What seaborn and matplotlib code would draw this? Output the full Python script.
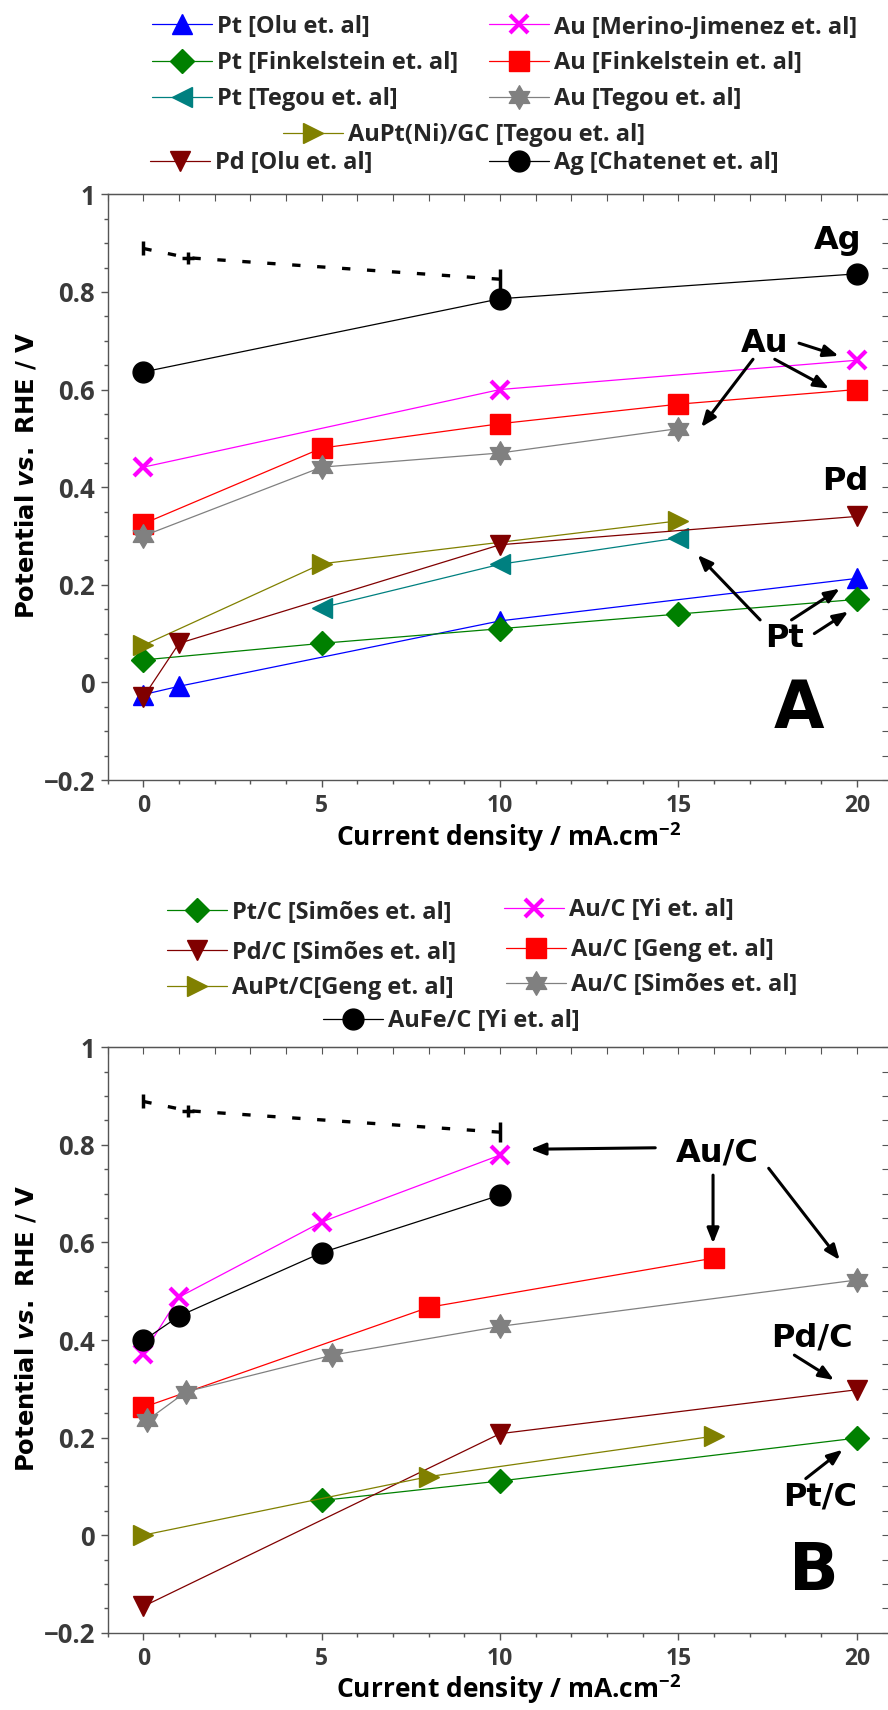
import matplotlib
matplotlib.use("Agg")
import matplotlib.pyplot as plt
import seaborn as sns
from matplotlib.lines import Line2D
from matplotlib.path import Path
from matplotlib.ticker import MultipleLocator, FuncFormatter

# ---------------- panel A data (current density mA/cm2, potential V vs RHE)
pt_olu_x = [0, 1, 10, 20]
pt_olu_y = [-0.025, -0.008, 0.126, 0.213]
pt_fink_x = [0, 5, 10, 15, 20]
pt_fink_y = [0.046, 0.080, 0.110, 0.140, 0.170]
pt_tegou_x = [5, 10, 15]
pt_tegou_y = [0.153, 0.242, 0.296]
aupt_ni_x = [0, 5, 15]
aupt_ni_y = [0.076, 0.243, 0.331]
pd_olu_x = [0, 1, 10, 20]
pd_olu_y = [-0.030, 0.080, 0.282, 0.340]
au_merino_x = [0, 10, 20]
au_merino_y = [0.441, 0.600, 0.660]
au_fink_x = [0, 5, 10, 15, 20]
au_fink_y = [0.325, 0.480, 0.530, 0.570, 0.600]
au_tegou_x = [0, 5, 10, 15]
au_tegou_y = [0.300, 0.441, 0.470, 0.520]
ag_chat_x = [0, 10, 20]
ag_chat_y = [0.636, 0.786, 0.837]

# ---------------- panel B data
ptc_simoes_x = [5, 10, 20]
ptc_simoes_y = [0.071, 0.111, 0.199]
pdc_simoes_x = [0, 10, 20]
pdc_simoes_y = [-0.146, 0.208, 0.298]
auptc_geng_x = [0, 8, 16]
auptc_geng_y = [0.0, 0.120, 0.203]
auc_yi_x = [0, 1, 5, 10]
auc_yi_y = [0.372, 0.488, 0.642, 0.779]
auc_geng_x = [0, 8, 16]
auc_geng_y = [0.262, 0.467, 0.568]
auc_simoes_x = [0.1, 1.2, 5.3, 10, 20]
auc_simoes_y = [0.235, 0.294, 0.369, 0.428, 0.523]
aufec_yi_x = [0, 1, 5, 10]
aufec_yi_y = [0.399, 0.449, 0.579, 0.697]

# equilibrium reference (dashed) line, same on both panels
eq_x = [0, 1.25, 10]
eq_y = [0.889, 0.870, 0.826]

labels_a = ["Pt [Olu et. al]", "Au [Merino-Jimenez et. al]",
            "Pt [Finkelstein et. al]", "Au [Finkelstein et. al]",
            "Pt [Tegou et. al]", "Au [Tegou et. al]",
            "AuPt(Ni)/GC [Tegou et. al]",
            "Pd [Olu et. al]", "Ag [Chatenet et. al]"]
labels_b = ["Pt/C [Simões et. al]", "Au/C [Yi et. al]",
            "Pd/C [Simões et. al]", "Au/C [Geng et. al]",
            "AuPt/C[Geng et. al]", "Au/C [Simões et. al]",
            "AuFe/C [Yi et. al]"]

sns.set_style("ticks")
plt.rcParams["font.family"] = ["Open Sans", "DejaVu Sans"]
plt.rcParams["font.weight"] = "bold"
plt.rcParams["mathtext.fontset"] = "custom"
plt.rcParams["mathtext.default"] = "regular"
plt.rcParams["mathtext.it"] = "DejaVu Sans:italic:bold"
plt.rcParams["mathtext.rm"] = "DejaVu Sans:bold"
plt.rcParams["axes.unicode_minus"] = True

W, H = 888, 1710
fig = plt.figure(figsize=(W / 100, H / 100), dpi=100)

HEXAGRAM = Path.unit_regular_star(6, 0.577)

STY = {
    "pt": dict(color="#0000ff", marker="^", ms=15),
    "ptf": dict(color="#008000", marker="D", ms=12),
    "ptt": dict(color="#008080", marker="<", ms=15),
    "aupt": dict(color="#808000", marker=">", ms=15),
    "pd": dict(color="#800000", marker="v", ms=15),
    "aum": dict(color="#ff00ff", marker="x", ms=13, mew=3),
    "auf": dict(color="#ff0000", marker="s", ms=14.5),
    "aut": dict(color="#808080", marker=HEXAGRAM, ms=17),
    "ag": dict(color="#000000", marker="o", ms=15),
}


def series(ax, x, y, key):
    st = dict(STY[key])
    c = st.pop("color")
    mew = st.pop("mew", 1)
    sns.lineplot(x=x, y=y, ax=ax, color=c, lw=0.9, sort=False, estimator=None,
                 markeredgecolor=c, markerfacecolor=c, markeredgewidth=mew,
                 legend=False, **st)


def handle(key):
    st = dict(STY[key])
    c = st.pop("color")
    mew = st.pop("mew", 1)
    return Line2D([], [], color=c, lw=0.9, markeredgecolor=c,
                  markerfacecolor=c, markeredgewidth=mew, **st)


def entry(h, label, text_x, y_px, fs=17):
    fs_px = fs * 100 / 72
    hl, pad = 60, 5
    x0 = text_x - hl - pad
    fig.legend(handles=[h], labels=[label], loc="center left",
               bbox_to_anchor=(x0 / W, 1 - y_px / H), frameon=False,
               handlelength=hl / fs_px, handletextpad=pad / fs_px,
               borderpad=0, borderaxespad=0,
               prop=dict(family="Open Sans", weight="bold", size=fs))


def fmt(v, _):
    s = f"{v:.1f}".rstrip("0").rstrip(".")
    if s in ("-0", "0"):
        return "0"
    return s.replace("-", "\u2212")


def style_axes(ax):
    ax.set_xlim(-1, 20.9)
    ax.set_ylim(-0.2, 1.0)
    ax.xaxis.set_major_locator(MultipleLocator(5))
    ax.xaxis.set_minor_locator(MultipleLocator(1))
    ax.yaxis.set_major_locator(MultipleLocator(0.2))
    ax.yaxis.set_minor_locator(MultipleLocator(0.05))
    ax.yaxis.set_major_formatter(FuncFormatter(fmt))
    for s in ax.spines.values():
        s.set_color("#555555")
        s.set_linewidth(1.0)
        s.set_visible(True)
    ax.tick_params(which="both", direction="out", color="#555555", width=1,
                   top=False, right=False, labelcolor="#3a3a3a")
    ax.tick_params(which="major", length=5, pad=5)
    ax.tick_params(which="minor", length=3)
    ax.tick_params(axis="x", labelsize=16.5)
    ax.tick_params(axis="y", labelsize=18.5, pad=4)
    for lab in ax.get_xticklabels() + ax.get_yticklabels():
        lab.set_fontweight("bold")
    top = ax.secondary_xaxis("top")
    top.xaxis.set_major_locator(MultipleLocator(1))
    top.tick_params(direction="in", length=5, color="#555555", labeltop=False)
    top.spines["top"].set_color("#555555")
    right = ax.secondary_yaxis("right")
    right.yaxis.set_major_locator(MultipleLocator(0.05))
    right.tick_params(direction="in", length=5, color="#555555", labelright=False)
    right.spines["right"].set_color("#555555")
    ax.set_xlabel("Current density / mA.cm$^{-2}$", fontsize=19, fontweight="bold",
                  labelpad=4, color="black")
    ax.xaxis.set_label_coords(0.513, -0.068)
    ax.set_ylabel("Potential $\\mathit{vs.}$ RHE / V", fontsize=17.5,
                  fontweight="bold", family="DejaVu Sans", color="black")
    ax.yaxis.set_label_coords(-0.089, 0.52)
    # dashed equilibrium guide line with its end markers
    ax.plot(eq_x, eq_y, color="black", lw=2.4, linestyle=(0, (2.5, 5)))
    ax.plot(eq_x[:1], eq_y[:1], color="black", marker="|", ms=10, mew=2.5, ls="none")
    ax.plot(eq_x[1:2], eq_y[1:2], color="black", marker="+", ms=9, mew=2.5, ls="none")
    ax.plot(eq_x[2:], eq_y[2:], color="black", marker="|", ms=14, mew=2.5, ls="none")


def arrow(ax, start, end):
    ax.annotate("", xy=end, xytext=start,
                arrowprops=dict(arrowstyle="-|>,head_length=0.45,head_width=0.18",
                                lw=2.2, color="black", mutation_scale=20,
                                shrinkA=0, shrinkB=0))


def note(ax, x, y, s, size=23):
    ax.text(x, y, s, ha="center", va="center", fontsize=size,
            fontweight="bold", family="DejaVu Sans", color="black")


# ---------------- Panel A
axA = fig.add_axes([107.7 / W, 1 - 780 / H, 781.2 / W, 585.7 / H])
series(axA, pt_olu_x, pt_olu_y, "pt")
series(axA, pt_fink_x, pt_fink_y, "ptf")
series(axA, pt_tegou_x, pt_tegou_y, "ptt")
series(axA, aupt_ni_x, aupt_ni_y, "aupt")
series(axA, pd_olu_x, pd_olu_y, "pd")
series(axA, au_merino_x, au_merino_y, "aum")
series(axA, au_fink_x, au_fink_y, "auf")
series(axA, au_tegou_x, au_tegou_y, "aut")
series(axA, ag_chat_x, ag_chat_y, "ag")
style_axes(axA)

note(axA, 19.47, 0.906, "Ag")
note(axA, 17.42, 0.695, "Au")
arrow(axA, (18.38, 0.695), (19.49, 0.669))
arrow(axA, (17.70, 0.662), (19.22, 0.602))
arrow(axA, (17.09, 0.662), (15.64, 0.523))
note(axA, 19.68, 0.411, "Pd")
note(axA, 17.97, 0.090, "Pt")
arrow(axA, (17.29, 0.128), (15.54, 0.261))
arrow(axA, (18.17, 0.128), (19.52, 0.192))
arrow(axA, (18.81, 0.100), (19.76, 0.145))
note(axA, 18.37, -0.057, "A", size=47)

keys_a = ["pt", "aum", "ptf", "auf", "ptt", "aut", "aupt", "pd", "ag"]
pos_a = [(216.7, 26.7), (553.8, 26.7), (216.7, 63.3), (553.8, 63.3),
         (216.7, 99), (553.8, 99), (348.2, 135), (215.2, 163.3), (553.8, 163.3)]
for k, lab, (tx, ty) in zip(keys_a, labels_a, pos_a):
    entry(handle(k), lab, tx, ty)

# ---------------- Panel B
axB = fig.add_axes([107.7 / W, 1 - 1632.7 / H, 781.2 / W, 585.4 / H])
series(axB, ptc_simoes_x, ptc_simoes_y, "ptf")
series(axB, pdc_simoes_x, pdc_simoes_y, "pd")
series(axB, auptc_geng_x, auptc_geng_y, "aupt")
series(axB, auc_yi_x, auc_yi_y, "aum")
series(axB, auc_geng_x, auc_geng_y, "auf")
series(axB, auc_simoes_x, auc_simoes_y, "aut")
series(axB, aufec_yi_x, aufec_yi_y, "ag")
style_axes(axB)

note(axB, 16.1, 0.784, "Au/C")
arrow(axB, (14.35, 0.794), (10.85, 0.791))
arrow(axB, (15.97, 0.738), (15.97, 0.598))
arrow(axB, (17.53, 0.752), (19.52, 0.564))
note(axB, 18.73, 0.405, "Pd/C")
arrow(axB, (18.25, 0.369), (19.36, 0.318))
note(axB, 18.97, 0.078, "Pt/C")
arrow(axB, (18.57, 0.116), (19.60, 0.175))
note(axB, 18.8, -0.076, "B", size=47)

keys_b = ["ptf", "aum", "pd", "auf", "aupt", "aut", "ag"]
pos_b = [(232, 912.7), (569, 910), (232, 952.7), (571, 950),
         (232, 988.3), (571, 985), (388, 1021)]
for k, lab, (tx, ty) in zip(keys_b, labels_b, pos_b):
    entry(handle(k), lab, tx, ty)

fig.savefig("out.png", dpi=100, facecolor="white")
